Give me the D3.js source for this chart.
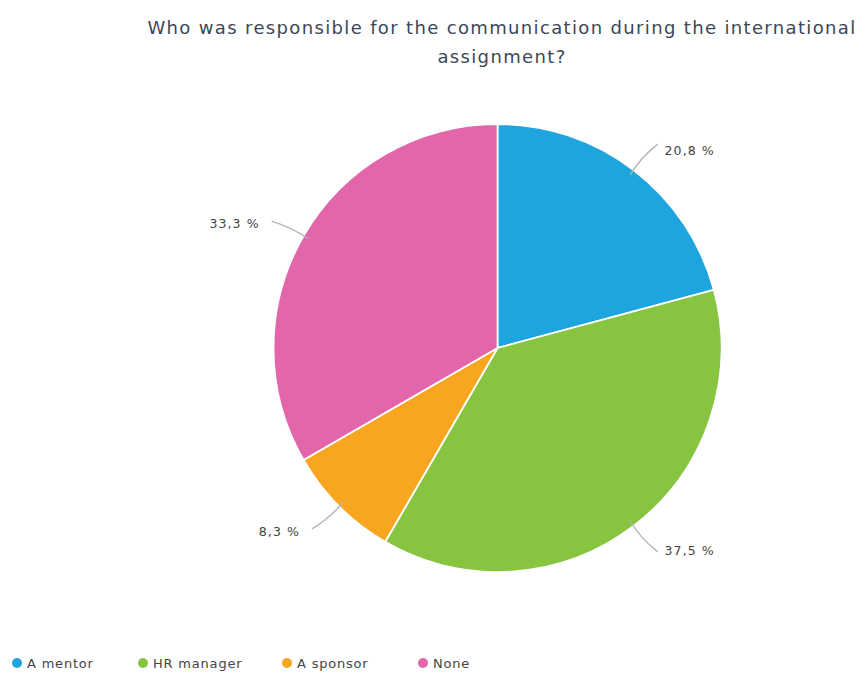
<!DOCTYPE html>
<html>
<head>
<meta charset="utf-8">
<script src="https://cdn.jsdelivr.net/npm/d3@7"></script>
<style>
  html, body { margin: 0; padding: 0; background: #fff; }
  svg { display: block; }
</style>
</head>
<body>
<svg id="chart" width="868" height="675"></svg>
<script>
// Survey answers
const categories = ["A mentor", "HR manager", "A sponsor", "None"];
const shares = [20.8, 37.5, 8.3, 33.3];
const valueLabels = ["20,8 %", "37,5 %", "8,3 %", "33,3 %"];
const sliceColors = ["#1fa5de", "#87c540", "#f8a51f", "#e366aa"];
const titleLines = ["Who was responsible for the communication during the international", "assignment?"];

const svg = d3.select("#chart");
const cx = 497.5, cy = 348, radius = 224;

// Title
svg.append("g")
  .selectAll("text")
  .data(titleLines)
  .join("text")
  .attr("x", 502)
  .attr("y", (d, i) => 34 + i * 29)
  .attr("text-anchor", "middle")
  .attr("font-family", "DejaVu Sans")
  .attr("font-size", 18)
  .attr("letter-spacing", 1.35)
  .attr("fill", "#3c475a")
  .text(d => d);

const color = d3.scaleOrdinal().domain(categories).range(sliceColors);

const pie = d3.pie().sort(null).value(d => d.value);
const arcs = pie(categories.map((c, i) => ({ name: c, value: shares[i], label: valueLabels[i] })));

const arc = d3.arc().innerRadius(0).outerRadius(radius);

const g = svg.append("g").attr("transform", `translate(${cx},${cy})`);

g.selectAll("path.slice")
  .data(arcs)
  .join("path")
  .attr("class", "slice")
  .attr("d", arc)
  .attr("fill", d => color(d.data.name))
  .attr("stroke", "#ffffff")
  .attr("stroke-width", 1.8);

// Leader lines and value labels
const pointAt = (angle, r) => [Math.sin(angle) * r, -Math.cos(angle) * r];

arcs.forEach(d => {
  const mid = (d.startAngle + d.endAngle) / 2;
  const right = Math.sin(mid) >= 0;
  const upper = Math.cos(mid) > 0;
  const p0 = pointAt(mid, radius - 6);
  const c1 = pointAt(mid, radius + 16);
  const p2 = pointAt(mid + (right ? 0.012 : -0.012) * (upper ? 1 : -1), radius + 35);
  const path = d3.path();
  path.moveTo(p0[0], p0[1]);
  path.quadraticCurveTo(c1[0] + (right ? -3 : 3), c1[1], p2[0], p2[1]);
  g.append("path")
    .attr("d", path.toString())
    .attr("fill", "none")
    .attr("stroke", "#b5b5b5")
    .attr("stroke-width", 1.4);
  g.append("text")
    .attr("x", p2[0] + (right ? 7 : -12))
    .attr("y", p2[1] + (right ? (upper ? 11 : 3) : 7))
    .attr("text-anchor", right ? "start" : "end")
    .attr("font-family", "DejaVu Sans")
    .attr("font-size", 12.5)
    .attr("letter-spacing", 1.1)
    .attr("fill", "#444")
    .text(d.data.label);
});

// Legend
const legendX = [17, 143, 287, 423];
const legend = svg.append("g")
  .selectAll("g")
  .data(categories)
  .join("g")
  .attr("transform", (d, i) => `translate(${legendX[i]},663)`);

legend.append("circle")
  .attr("r", 5)
  .attr("fill", d => color(d));

legend.append("text")
  .attr("x", 10)
  .attr("y", 5)
  .attr("font-family", "DejaVu Sans")
  .attr("font-size", 13)
  .attr("letter-spacing", 0.8)
  .attr("fill", "#444")
  .text(d => d);
</script>
</body>
</html>
